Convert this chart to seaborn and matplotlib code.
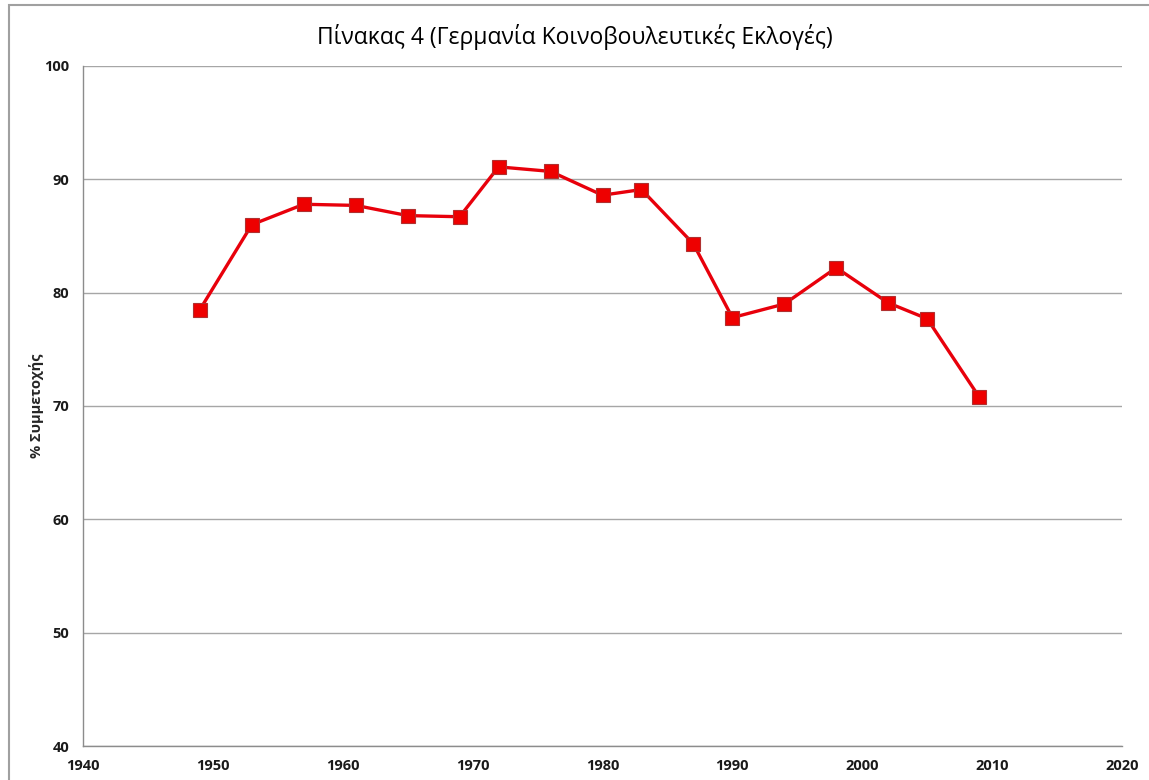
import pandas as pd
import matplotlib.pyplot as plt
import matplotlib.patches as patches
import seaborn as sns

# election years and turnout (%)
years = [1949, 1953, 1957, 1961, 1965, 1969, 1972, 1976, 1980, 1983,
         1987, 1990, 1994, 1998, 2002, 2005, 2009]
turnout = [78.5, 86.0, 87.8, 87.7, 86.8, 86.7, 91.1, 90.7, 88.6, 89.1,
           84.3, 77.8, 79.0, 82.2, 79.1, 77.7, 70.8]

title = "Πίνακας 4 (Γερμανία Κοινοβουλευτικές Εκλογές)"
ylabel = "% Συμμετοχής"
xticks = [1940, 1950, 1960, 1970, 1980, 1990, 2000, 2010, 2020]
yticks = [40, 50, 60, 70, 80, 90, 100]

df = pd.DataFrame({"year": years, "turnout": turnout})

sns.set_style("white")
plt.rcParams['font.family'] = ['Open Sans', 'DejaVu Sans']

fig = plt.figure(figsize=(11.49, 7.80), dpi=100)
ax = fig.add_axes([83 / 1149, 34 / 780, (1122 - 83) / 1149, (746 - 66) / 780])

# outer chart frame (Excel style)
fig.patches.append(patches.Rectangle((9 / 1149, -0.05), 1.1, (775 / 780) + 0.05,
                                     transform=fig.transFigure, fill=False,
                                     edgecolor='#a0a0a0', linewidth=1.5))

sns.lineplot(data=df, x="year", y="turnout", ax=ax, color='#e8000b',
             linewidth=2.4, marker='s', markersize=9.5,
             markerfacecolor='#ee0000', markeredgecolor='#b03030',
             markeredgewidth=0.8, zorder=3)

ax.set_xlim(1940, 2020)
ax.set_ylim(40, 100)
ax.set_xticks(xticks)
ax.set_yticks(yticks)
ax.grid(axis='y', color='#a6a6a6', linewidth=1)
ax.set_axisbelow(True)

for side in ['top', 'right']:
    ax.spines[side].set_visible(False)
for side in ['left', 'bottom']:
    ax.spines[side].set_color('#8c8c8c')
    ax.spines[side].set_linewidth(1)

ax.tick_params(axis='both', length=0, labelsize=10.5, labelcolor='#1a1a1a')
ax.tick_params(axis='y', pad=10)
ax.tick_params(axis='x', pad=9)
for lab in ax.get_xticklabels() + ax.get_yticklabels():
    lab.set_fontweight('bold')

ax.set_xlabel("")
ax.set_ylabel(ylabel, fontsize=10.5, fontweight='bold', labelpad=0)
fig.text(0.5, 0.952, title, ha='center', va='center', fontsize=16.5,
         color='black')

fig.savefig("out.png", dpi=100, facecolor='white')
